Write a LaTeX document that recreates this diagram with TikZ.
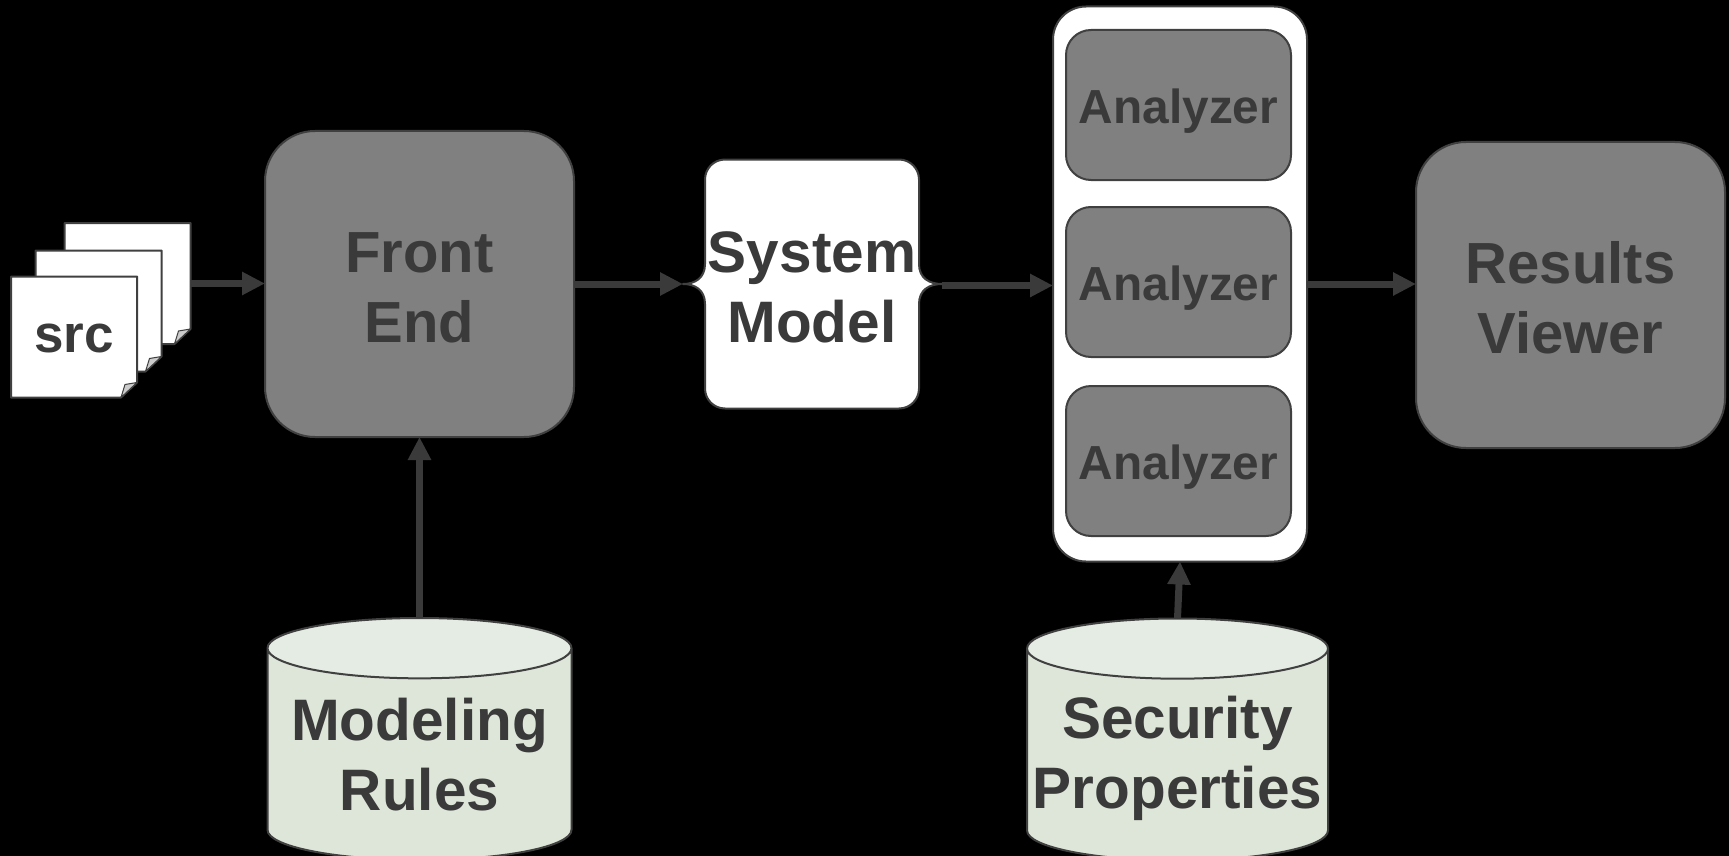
\documentclass[tikz,border=0pt]{standalone}
\usepackage{fontspec}
\setmainfont{Liberation Sans}
\usetikzlibrary{calc,positioning,shapes.geometric,arrows.meta,backgrounds}
\definecolor{boxgray}{HTML}{808080}
\definecolor{inkgray}{HTML}{3A3A3A}
\definecolor{edgegray}{HTML}{404040}
\definecolor{dbbody}{HTML}{DDE6D8}
\definecolor{dbtop}{HTML}{E4ECE3}
\newcommand{\lift}{\rule{0pt}{48.5pt}}
\tikzset{
    stage/.style={
        draw=edgegray,
        line width=2pt,
        fill=boxgray,
        rounded corners=50pt,
        outer sep=0pt,
        minimum width=309pt,
        minimum height=306pt,
        align=center,
        text=inkgray,
        font=\bfseries\fontsize{58}{70}\selectfont
    },
    analyzer/.style={
        stage,
        rounded corners=25pt,
        minimum width=225pt,
        minimum height=150pt,
        text height=46pt,
        font=\bfseries\fontsize{47.8}{57}\selectfont
    },
    holder/.style={
        draw=edgegray,
        line width=2pt,
        fill=white,
        rounded corners=33pt,
        outer sep=0pt,
        minimum width=254pt,
        minimum height=555pt
    },
    modelbox/.style={
        outer sep=0pt,
        minimum width=214pt,
        minimum height=249pt,
        inner sep=0pt,
        align=center,
        text=inkgray,
        font=\bfseries\fontsize{58.5}{70}\selectfont
    },
    sheet/.style={
        outer sep=0pt,
        minimum width=126pt,
        minimum height=121pt,
        text=inkgray,
        font=\bfseries\fontsize{53}{60}\selectfont
    },
    sheetline/.style={
        draw=edgegray,
        line width=2pt,
        fill=white,
        line join=round
    },
    store/.style={
        draw=edgegray,
        line width=2pt,
        cylinder,
        shape border rotate=90,
        shape aspect=0.235,
        cylinder uses custom fill,
        cylinder body fill=dbbody,
        cylinder end fill=dbtop,
        outer sep=0pt,
        inner sep=0pt,
        minimum height=242pt,
        align=center,
        text=inkgray,
        font=\bfseries\fontsize{58.5}{70}\selectfont
    },
    flow/.style={
        draw=inkgray,
        line width=7pt,
        -{Triangle[length=23pt,width=22pt]}
    }
}

\begin{document}
\begin{tikzpicture}[x=1pt,y=-1pt]
    \useasboundingbox (0,0) rectangle (1729,856);

    \node[stage] (frontend) at (419.5,284) {\lift Front\\End};
    \node[modelbox,right=131pt of frontend] (model) {\lift System\\Model};
    \node[holder,right=134pt of model] (holder) {};
    \node[stage,right=109pt of holder,yshift=-11pt] (viewer) {\lift Results\\Viewer};

    \node[analyzer,xshift=-1.5pt,yshift=2pt] (analyzerb) at (holder) {Analyzer};
    \node[analyzer,above=27pt of analyzerb] (analyzera) {Analyzer};
    \node[analyzer,below=29pt of analyzerb] (analyzerc) {Analyzer};

    \node[store,minimum width=304pt,below=181pt of frontend] (rules) {Modeling\\Rules};
    \node[store,shape aspect=0.208,minimum width=301pt,below=57pt of holder,xshift=-2.5pt] (props) {\lift Security\\Properties};

    \node[sheet,text height=32.5pt] (srcfront) at (74,337) {src};
    \node[sheet] (srcmid) at (98.5,311) {};
    \node[sheet] (srcback) at (127.5,283.5) {};

    \coordinate (modelin) at ($(model.west)+(-22,0)$);
    \coordinate (modelout) at ($(model.east)+(23,0)$);

    \begin{scope}[on background layer]
        \fill[black] (0,0) rectangle (1729,856);
        \foreach \s in {srcback,srcmid,srcfront} {
            \draw[sheetline] (\s.south west) -- ($(\s.south east)+(-16,0)$)
                -- ($(\s.south east)+(0,-15)$) -- (\s.north east) -- (\s.north west) -- cycle;
            \draw[sheetline,fill=black!20,line width=1pt] ($(\s.south east)+(-16,0)$)
                -- ($(\s.south east)+(-12,-13)$) -- ($(\s.south east)+(0,-15)$) -- cycle;
        }
        \draw[sheetline] (model.north) -- ($(model.north east)+(-20,0)$)
            to[out=0,in=90] ($(model.north east)+(0,20)$)
            -- ($(model.east)+(0,-20)$)
            .. controls ($(model.east)+(0,-6)$) and ($(model.east)+(10,0)$) .. (modelout)
            .. controls ($(model.east)+(10,0)$) and ($(model.east)+(0,6)$) .. ($(model.east)+(0,20)$)
            -- ($(model.south east)+(0,-20)$)
            to[out=-90,in=0] ($(model.south east)+(-20,0)$)
            -- ($(model.south west)+(20,0)$)
            to[out=180,in=-90] ($(model.south west)+(0,-20)$)
            -- ($(model.west)+(0,20)$)
            .. controls ($(model.west)+(0,6)$) and ($(model.west)+(-10,0)$) .. (modelin)
            .. controls ($(model.west)+(-10,0)$) and ($(model.west)+(0,-6)$) .. ($(model.west)+(0,-20)$)
            -- ($(model.north west)+(0,20)$)
            to[out=90,in=180] ($(model.north west)+(20,0)$) -- cycle;
    \end{scope}

    \draw[flow] (srcback.east) -- (srcback.east -| frontend.west);
    \draw[flow] (frontend.east) -- (modelin);
    \draw[flow] ([yshift=-1.5pt]modelout) -- ([yshift=-1.5pt]modelout -| holder.west);
    \draw[flow] (holder.east) -- (holder.east -| viewer.west);
    \draw[flow] (rules.north) -- (frontend.south);
    \draw[flow] (props.north) -- (holder.south);
\end{tikzpicture}
\end{document}
